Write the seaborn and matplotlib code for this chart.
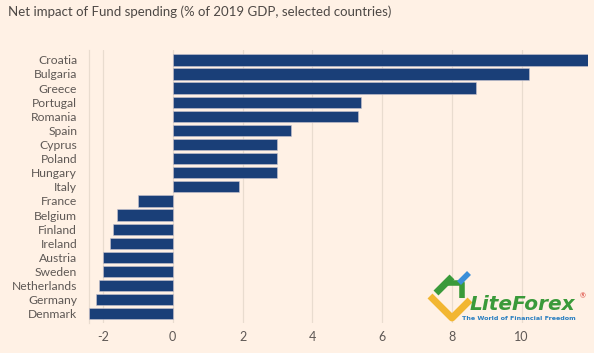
import matplotlib
matplotlib.use("Agg")
import matplotlib.pyplot as plt
import seaborn as sns
import pandas as pd
from matplotlib.lines import Line2D

countries = ["Croatia", "Bulgaria", "Greece", "Portugal", "Romania", "Spain",
             "Cyprus", "Poland", "Hungary", "Italy", "France", "Belgium",
             "Finland", "Ireland", "Austria", "Sweden", "Netherlands",
             "Germany", "Denmark"]
impact = [11.9, 10.2, 8.7, 5.4, 5.3, 3.4, 3.0, 3.0, 3.0, 1.9, -1.0, -1.6,
          -1.7, -1.8, -2.0, -2.0, -2.1, -2.2, -2.4]
xticks = [-2, 0, 2, 4, 6, 8, 10]

BG = "#fff1e5"
BAR = "#1a3f78"
GRID = "#e9dccf"
TXT = "#5e5855"

sns.set_theme(style="white")
plt.rcParams["font.family"] = ["Lato", "DejaVu Sans"]

df = pd.DataFrame({"country": countries, "impact": impact})

fig = plt.figure(figsize=(5.94, 3.53), dpi=100, facecolor=BG)
ax = fig.add_axes([89/594, 1 - 323/353, (588 - 89)/594, (323 - 50)/353])
ax.set_facecolor(BG)

sns.barplot(data=df, x="impact", y="country", orient="h", color=BAR,
            width=0.8, edgecolor="#c9c4d0", linewidth=0.4, saturation=1,
            ax=ax, zorder=3)

ax.set_xlim(-2.4, 11.9)
ax.set_ylim(18.65, -0.7)
ax.set_xticks(xticks)
ax.set_xticklabels([str(t) for t in xticks])
ax.set_xlabel("")
ax.set_ylabel("")
ax.grid(axis="x", color=GRID, linewidth=0.9, zorder=0)
for s in ["top", "right", "bottom"]:
    ax.spines[s].set_visible(False)
ax.spines["left"].set_color(GRID)
ax.spines["left"].set_linewidth(0.9)
ax.tick_params(axis="y", length=6.5, width=0.8, color=GRID, labelsize=8.7,
               labelcolor=TXT, pad=2)
ax.tick_params(axis="x", length=0, labelsize=9, labelcolor=TXT, pad=6)

fig.text(8/594, 1 - 12/353, "Net impact of Fund spending (% of 2019 GDP, selected countries)",
         fontsize=9.5, color="#4d4845", ha="left", va="center")

# watermark logo (approximate)
def fl(xs, ys, color, lw):
    fig.add_artist(Line2D([x/594 for x in xs], [1 - y/353 for y in ys],
                          color=color, lw=lw, solid_capstyle="butt",
                          transform=fig.transFigure, zorder=10))

fl([430, 452, 470], [296, 318, 300], "#f2b632", 5)
fl([436, 452], [293, 277], "#3a9a3a", 5)
fl([447, 462, 462], [283, 283, 298], "#3a9a3a", 4)
fl([459, 469], [283, 273], "#3b8fd9", 4)
fig.text(470/594, 1 - 305/353, "LiteForex", fontsize=14.5, fontweight="bold",
         style="italic", color="#3a9a3a", ha="left", va="center",
         family=["DejaVu Sans"], zorder=10)
fig.text(580/594, 1 - 296/353, "®", fontsize=5, color="#d9342b",
         ha="left", va="center", zorder=10)
fig.text(462/594, 1 - 318/353, "The World of Financial Freedom", fontsize=4.6,
         fontweight="bold", color="#2a7fc1", ha="left", va="center",
         family=["DejaVu Sans"], zorder=10)

fig.savefig("out.png", dpi=100, facecolor=BG)
